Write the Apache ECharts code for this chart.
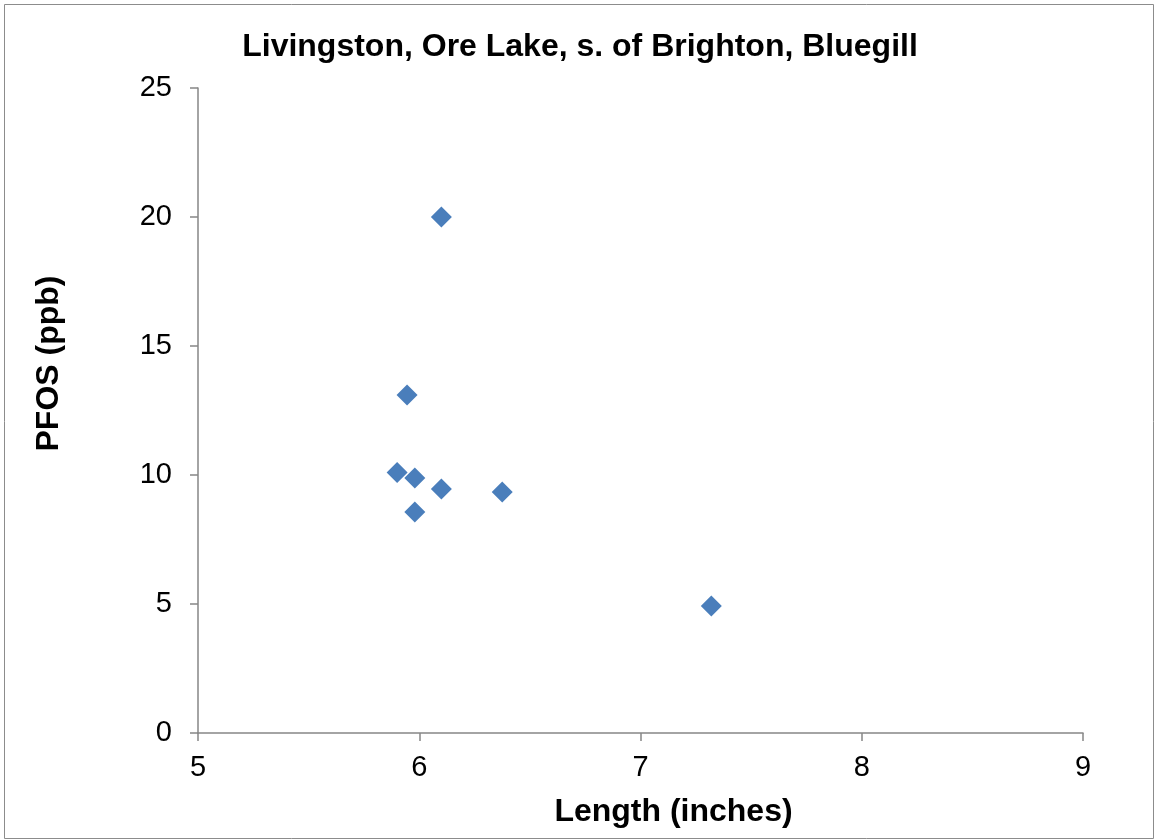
<!DOCTYPE html>
<html><head><meta charset="utf-8">
<script src="https://cdn.jsdelivr.net/npm/echarts@6/dist/echarts.min.js"></script>
<style>html,body{margin:0;padding:0;background:#fff}#c{width:1156px;height:840px}</style>
</head><body><div id="c"></div>
<script>
const titleText = "Livingston, Ore Lake, s. of Brighton, Bluegill";
const xTitle = "Length (inches)";
const yTitle = "PFOS (ppb)";
const lengths = [6.10, 5.945, 5.90, 5.98, 6.10, 6.375, 5.98, 7.32];
const pfos = [20.0, 13.1, 10.1, 9.88, 9.46, 9.34, 8.57, 4.92];
const points = lengths.map((x, i) => [x, pfos[i]]);
const font = "Liberation Sans, Arial, sans-serif";
const chart = echarts.init(document.getElementById('c'));
chart.setOption({
  animation: false,
  backgroundColor: '#fff',
  graphic: [{type:'rect', shape:{x:4.5,y:4.5,width:1149,height:834}, style:{fill:'none', stroke:'#8c8c8c', lineWidth:1}}],
  title: {text: titleText, left: 575, textAlign: 'center', top: 26,
    textStyle: {fontFamily: font, fontWeight: 'bold', fontSize: 32, color: '#000'}},
  grid: {left: 198, right: 73, top: 88, bottom: 107, outerBoundsMode: 'none', containLabel: false},
  xAxis: {type: 'value', min: 5, max: 9, interval: 1,
    name: xTitle, nameLocation: 'middle', nameGap: 63,
    nameTextStyle: {fontFamily: font, fontWeight: 'bold', fontSize: 32, color: '#000', padding: [0, 0, 0, 66]},
    axisLine: {show: true, onZero: false, lineStyle: {color: '#868686', width: 1.5}},
    axisTick: {show: true, length: 8, inside: false, lineStyle: {color: '#868686', width: 1.5}},
    axisLabel: {fontFamily: font, fontSize: 29, color: '#000', margin: 20},
    splitLine: {show: false}},
  yAxis: {type: 'value', min: 0, max: 25, interval: 5,
    name: yTitle, nameLocation: 'middle', nameGap: 133, nameRotate: 90,
    nameTextStyle: {fontFamily: font, fontWeight: 'bold', fontSize: 32, color: '#000', padding: [0, 0, 0, 94]},
    axisLine: {show: true, lineStyle: {color: '#868686', width: 1.5}},
    axisTick: {show: true, length: 8, inside: false, lineStyle: {color: '#868686', width: 1.5}},
    axisLabel: {fontFamily: font, fontSize: 29, color: '#000', margin: 26},
    splitLine: {show: false}},
  series: [{type: 'scatter', data: points, symbol: 'diamond', symbolSize: 21,
    itemStyle: {color: '#4a7ebb', opacity: 1}}]
});
</script></body></html>
